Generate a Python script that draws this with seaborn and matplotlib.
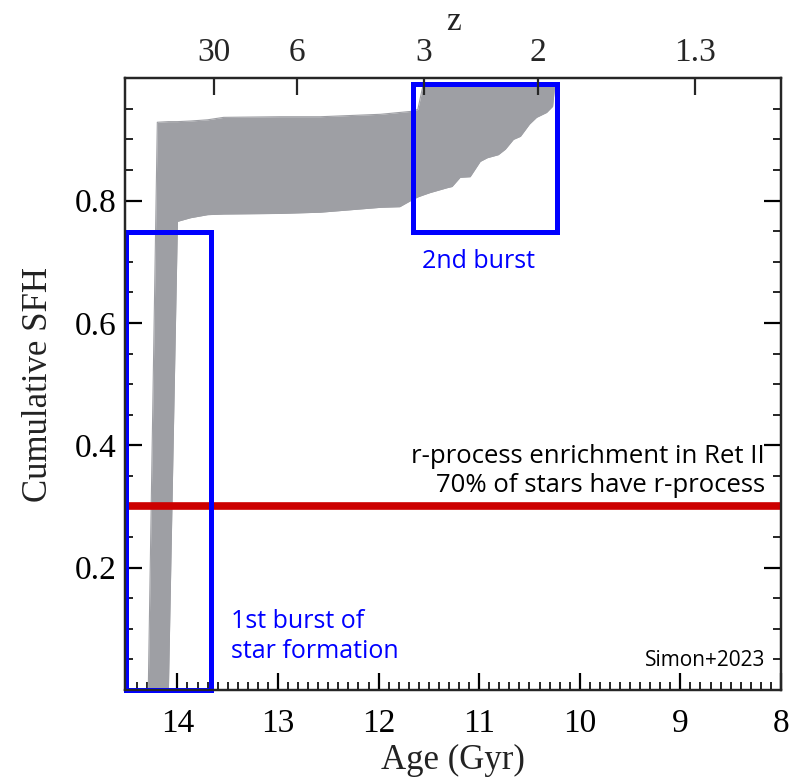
import numpy as np
import pandas as pd
import matplotlib
matplotlib.use("Agg")
import matplotlib.pyplot as plt
from matplotlib.patches import Rectangle
from matplotlib.ticker import MultipleLocator
import seaborn as sns

# Cumulative star formation history envelope (age in Gyr, lookback)
age = [14.29, 14.20, 14.09, 14.00, 13.87, 13.70, 13.54, 12.98, 12.58, 11.98,
       11.79, 11.66, 11.61, 11.56, 11.49, 11.32, 11.27, 11.19, 11.09, 10.99,
       10.92, 10.81, 10.74, 10.66, 10.59, 10.50, 10.43, 10.33, 10.27, 10.25]
sfh_upper = [0.000, 0.928, 0.929, 0.929, 0.930, 0.932, 0.936, 0.937, 0.937, 0.941,
             0.944, 0.946, 0.949, 0.987, 0.987, 0.987, 0.987, 0.987, 0.987, 0.987,
             0.987, 0.987, 0.987, 0.987, 0.987, 0.987, 0.987, 0.987, 0.987, 0.987]
sfh_lower = [0.000, 0.000, 0.000, 0.766, 0.772, 0.777, 0.778, 0.779, 0.781, 0.789,
             0.790, 0.802, 0.806, 0.809, 0.813, 0.821, 0.823, 0.838, 0.839, 0.864,
             0.870, 0.875, 0.884, 0.900, 0.905, 0.925, 0.936, 0.944, 0.954, 0.987]

# r-process enrichment threshold
rprocess_level = 0.3

# Redshift axis
z_ages = [13.64, 12.81, 11.55, 10.415, 8.856]
z_labels = ["30", "6", "3", "2", "1.3"]

# Age axis
age_ticks = [14, 13, 12, 11, 10, 9, 8]
sfh_ticks = [0.2, 0.4, 0.6, 0.8]

# Highlighted burst windows: (age_start, age_end, sfh_low, sfh_high)
burst1 = (14.51, 13.67, 0.0, 0.749)
burst2 = (11.66, 10.23, 0.749, 0.991)

sns.set_theme(style="ticks")
serif = ["Liberation Serif", "DejaVu Serif"]
sans = ["Open Sans", "DejaVu Sans"]
plt.rcParams["font.family"] = serif

df = pd.DataFrame({"age": age, "upper": sfh_upper, "lower": sfh_lower})

fig = plt.figure(figsize=(7.92, 7.82), dpi=100)
ax = fig.add_axes([0.158, 0.1176, 0.828, 0.7824])

band_color = "#9e9fa4"
ax.fill_between(df["age"], df["lower"], df["upper"], color=band_color, lw=0, zorder=2)
sns.lineplot(data=df, x="age", y="upper", ax=ax, color=band_color, lw=0.8, sort=False, zorder=2)
sns.lineplot(data=df, x="age", y="lower", ax=ax, color=band_color, lw=0.8, sort=False, zorder=2)

ax.axhline(rprocess_level, color="#cc0000", lw=5.5, zorder=3)

for (a0, a1, s0, s1) in (burst1, burst2):
    ax.add_patch(Rectangle((a1, s0), a0 - a1, s1 - s0, fill=False,
                           edgecolor="#0000ff", lw=3.6, zorder=5, clip_on=False))

ax.set_xlim(14.52, 8.0)
ax.set_ylim(0.0, 1.0)

ax.set_xticks(age_ticks)
ax.set_xticklabels([str(t) for t in age_ticks])
ax.xaxis.set_minor_locator(MultipleLocator(0.1))
ax.set_yticks(sfh_ticks)
ax.set_yticklabels([f"{t:.1f}" for t in sfh_ticks])
ax.yaxis.set_minor_locator(MultipleLocator(0.05))

ax.tick_params(axis="x", which="both", direction="in", top=False, bottom=True,
               labelsize=24, pad=13, colors="black")
ax.tick_params(axis="y", which="both", direction="in", left=True, right=True,
               labelsize=24, pad=6, colors="black")
ax.tick_params(which="major", length=12, width=1.6)
ax.tick_params(which="minor", length=6, width=1.2)
for s in ax.spines.values():
    s.set_linewidth(1.6)
    s.set_color("black")

ax.set_xlabel("Age (Gyr)", fontsize=25, labelpad=4, color="#222222")
ax.set_ylabel("Cumulative SFH", fontsize=25, labelpad=14, color="#222222")

# Redshift on the top axis
axz = ax.twiny()
axz.set_xlim(ax.get_xlim())
axz.set_xticks(z_ages)
axz.set_xticklabels(z_labels)
axz.xaxis.set_minor_locator(plt.NullLocator())
axz.tick_params(axis="x", direction="in", length=12, width=1.6, labelsize=24, pad=7)
axz.set_xlabel("z", fontsize=24, labelpad=6, color="#222222")
for s in axz.spines.values():
    s.set_linewidth(1.6)

ax.text(11.01, 0.701, "2nd burst", color="#0000ff", fontsize=18, family=sans,
        ha="center", va="center")
ax.text(13.47, 0.088, "1st burst of\nstar formation", color="#0000ff", fontsize=18,
        family=sans, ha="left", va="center", linespacing=1.25)
ax.text(8.16, 0.358, "r-process enrichment in Ret II\n70% of stars have r-process",
        color="black", fontsize=18.5, family=sans, ha="right", va="center",
        multialignment="right", linespacing=1.2)
ax.text(8.16, 0.049, "Simon+2023", color="black", fontsize=15, family=sans,
        ha="right", va="center")

fig.savefig("out.png", dpi=100)
